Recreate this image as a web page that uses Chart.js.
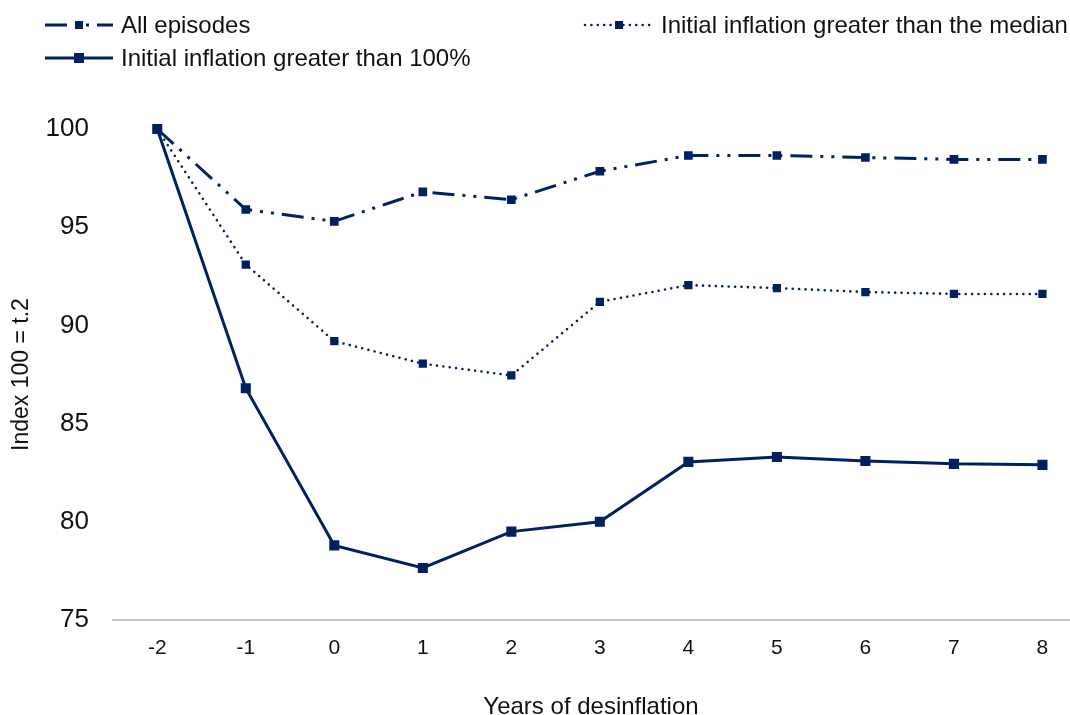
<!DOCTYPE html>
<html>
<head>
<meta charset="utf-8">
<script src="https://cdn.jsdelivr.net/npm/chart.js@4/dist/chart.umd.min.js"></script>
<style>
  html, body { margin: 0; padding: 0; background: #fff; overflow: hidden; }
  #wrap { width: 1070px; height: 715px; overflow: hidden; }
</style>
</head>
<body>
<div id="wrap"><canvas id="c" width="1077" height="715"></canvas></div>
<script>
// Years relative to the start of disinflation
const years = [-2, -1, 0, 1, 2, 3, 4, 5, 6, 7, 8];
const yTicks = [75, 80, 85, 90, 95, 100];

// Index, 100 = t-2
const allEpisodes = [100, 95.9, 95.3, 96.8, 96.4, 97.85, 98.65, 98.65, 98.55, 98.45, 98.45];
const aboveMedian = [100, 93.1, 89.2, 88.05, 87.45, 91.2, 92.05, 91.9, 91.7, 91.6, 91.6];
const above100 = [100, 86.8, 78.8, 77.65, 79.5, 80.0, 83.05, 83.3, 83.1, 82.95, 82.9];

const NAVY = '#002060';
const FONT = "'Liberation Sans', Arial, sans-serif";

function pts(vals) { return years.map((x, i) => ({ x, y: vals[i] })); }

const datasets = [
  {
    label: 'All episodes',
    data: pts(allEpisodes),
    borderColor: NAVY, backgroundColor: NAVY,
    borderWidth: 3, borderDash: [22, 8, 3, 8, 3, 8],
    pointStyle: 'rect', pointRadius: 4, pointHoverRadius: 4,
    clip: false,
    legendPos: { x: 45, y: 25 }
  },
  {
    label: 'Initial inflation greater than the median',
    data: pts(aboveMedian),
    borderColor: NAVY, backgroundColor: NAVY,
    borderWidth: 2.6, borderDash: [0.01, 6.4], borderCapStyle: 'round',
    pointStyle: 'rect', pointRadius: 4, pointHoverRadius: 4,
    clip: false,
    legendPos: { x: 585, y: 25 }
  },
  {
    label: 'Initial inflation greater than 100%',
    data: pts(above100),
    borderColor: NAVY, backgroundColor: NAVY,
    borderWidth: 3, borderDash: [],
    pointStyle: 'rect', pointRadius: 5, pointHoverRadius: 5,
    clip: false,
    legendPos: { x: 45, y: 58 }
  }
];

// Legend drawn at fixed spots, using each dataset's own line style
const legendPlugin = {
  id: 'placedLegend',
  afterDraw(chart) {
    const ctx = chart.ctx;
    chart.data.datasets.forEach(ds => {
      const { x, y } = ds.legendPos;
      const len = 68;
      ctx.save();
      ctx.strokeStyle = ds.borderColor;
      ctx.lineWidth = ds.borderWidth;
      ctx.lineCap = ds.borderCapStyle || 'butt';
      ctx.setLineDash(ds.borderDash || []);
      ctx.beginPath();
      ctx.moveTo(x, y);
      ctx.lineTo(x + len, y);
      ctx.stroke();
      ctx.setLineDash([]);
      const r = ds.pointRadius;
      ctx.fillStyle = ds.backgroundColor;
      ctx.fillRect(x + len / 2 - r, y - r, 2 * r, 2 * r);
      ctx.fillStyle = '#111';
      ctx.font = '24px ' + FONT;
      ctx.textBaseline = 'middle';
      ctx.textAlign = 'left';
      ctx.fillText(ds.label, x + len + 8, y + 1);
      ctx.restore();
    });
  }
};

new Chart(document.getElementById('c'), {
  type: 'line',
  data: { datasets },
  plugins: [legendPlugin],
  options: {
    responsive: false,
    animation: false,
    events: [],
    layout: { padding: { top: 129, right: 0, left: 8, bottom: -7 } },
    plugins: { legend: { display: false }, tooltip: { enabled: false } },
    elements: { line: { tension: 0 } },
    scales: {
      x: {
        type: 'linear',
        min: -2.5, max: 8.3,
        afterBuildTicks: axis => { axis.ticks = years.map(v => ({ value: v })); },
        afterFit: axis => { axis.height = 102; axis.paddingLeft = 0; axis.paddingRight = 0; },
        grid: { display: false, drawTicks: false },
        border: { display: true, color: '#c4c8cc', width: 2 },
        ticks: { color: '#111', font: { family: FONT, size: 21 }, padding: 16, autoSkip: false, maxRotation: 0 },
        title: { display: true, text: 'Years of desinflation', color: '#111',
                 font: { family: FONT, size: 24 }, padding: { top: 31, bottom: 0 } }
      },
      y: {
        min: 75, max: 100,
        afterBuildTicks: axis => { axis.ticks = yTicks.map(v => ({ value: v })); },
        afterFit: axis => { axis.width = 105; },
        grid: { display: false, drawTicks: false },
        border: { display: false },
        ticks: { color: '#111', font: { family: FONT, size: 26 }, padding: 24 },
        title: { display: true, text: 'Index 100 = t.2', color: '#111',
                 font: { family: FONT, size: 23 }, padding: { top: 0, bottom: 8 } }
      }
    }
  }
});
</script>
</body>
</html>
